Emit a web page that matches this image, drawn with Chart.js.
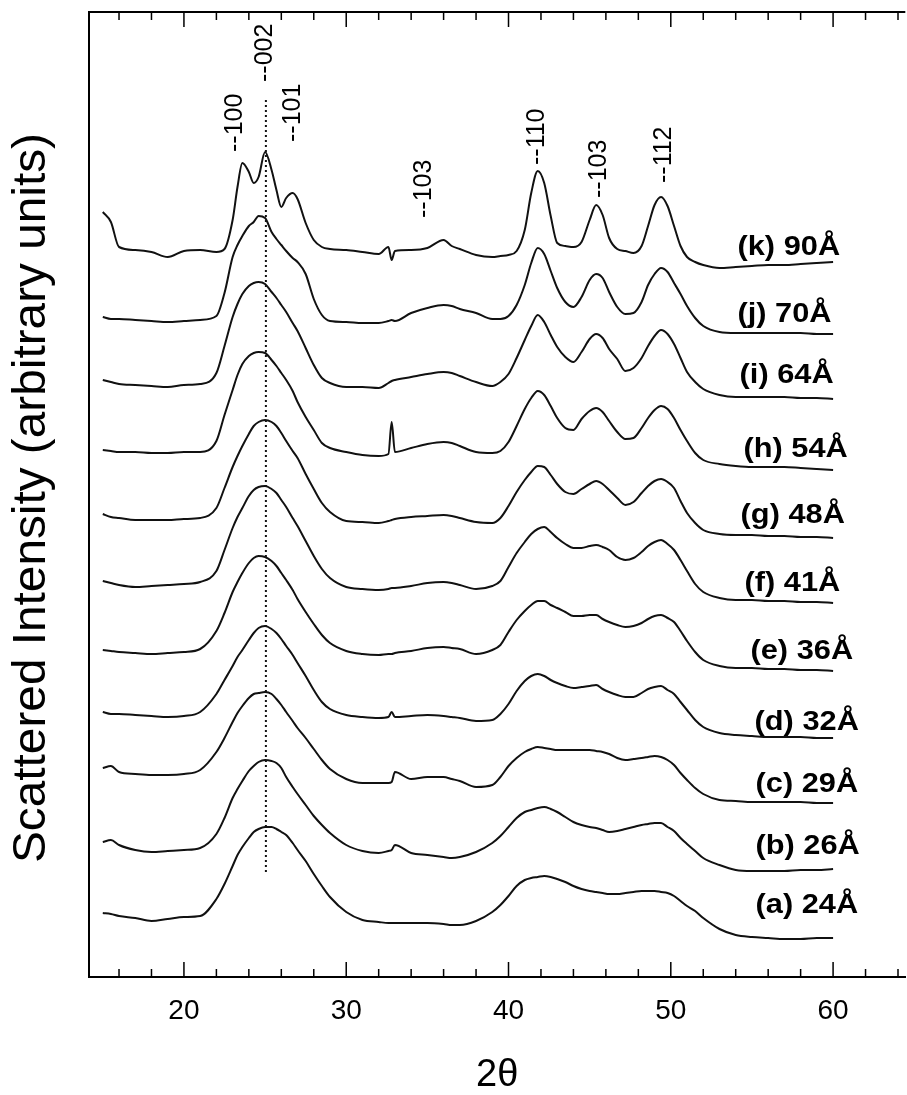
<!DOCTYPE html>
<html>
<head>
<meta charset="utf-8">
<title>Scattered intensity vs 2θ</title>
<script src="https://cdn.jsdelivr.net/npm/chart.js@4"></script>
<style>
  html, body { margin: 0; padding: 0; background: #fff; }
  #wrap { width: 907px; height: 1095px; }
</style>
</head>
<body>
<div id="wrap"><canvas id="xrdChart" width="907" height="1095"></canvas></div>
<script>
// 2-theta sample points (degrees), shared by every pattern
const twoTheta = [15, 15.5, 16, 17, 18, 19, 20, 21, 22, 22.5,
  23, 23.3, 23.6, 24, 24.3, 24.6, 25, 25.4, 25.7, 26,
  26.3, 26.7, 27, 27.5, 28, 28.5, 29, 30, 31, 32,
  32.6, 32.8, 33.0, 34, 35, 36, 36.5, 37, 38, 39,
  39.5, 40, 40.5, 41, 41.4, 41.8, 42.2, 42.6, 43, 43.5,
  44, 44.5, 45, 45.4, 45.8, 46.2, 46.7, 47.2, 47.7, 48.2,
  48.6, 49, 49.4, 49.8, 50.2, 50.6, 51, 51.5, 52, 53,
  54, 55, 56, 57, 58, 59, 60];

// intensities (arbitrary units, already offset for stacking)
const intensityA = [65, 64, 62, 60, 57, 59, 61, 62, 79, 94,
  112, 123, 131, 140, 146, 149, 151, 151, 149, 146,
  143, 135, 128, 117, 104, 92, 81, 66, 58, 56,
  55, 55, 55, 55, 55, 54, 53, 53, 57, 66,
  73, 82, 92, 98, 100, 101, 102, 101, 99, 96,
  92, 89, 87, 86, 85, 84, 84, 85, 86, 87,
  87, 87, 86, 85, 82, 77, 72, 67, 60, 49,
  43, 41, 40, 39, 39, 40, 40];
const intensityB = [136, 138, 133, 128, 126, 127, 128, 130, 144, 160,
  180, 189, 197, 207, 212, 216, 218, 217, 215, 210,
  201, 191, 184, 173, 162, 153, 145, 133, 127, 125,
  127, 128, 133, 125, 123, 121, 120, 121, 126, 135,
  142, 151, 160, 166, 168, 170, 171, 169, 166, 161,
  156, 153, 151, 150, 148, 146, 147, 149, 151, 153,
  154, 155, 155, 151, 147, 140, 134, 127, 120, 113,
  108, 107, 107, 107, 108, 108, 109];
const intensityC = [210, 212, 206, 204, 203, 203, 204, 208, 226, 240,
  256, 265, 272, 280, 284, 285, 286, 284, 279, 273,
  266, 257, 250, 240, 229, 218, 209, 199, 195, 195,
  195, 196, 206, 199, 201, 201, 199, 197, 191, 193,
  201, 212, 220, 226, 229, 231, 230, 229, 228, 228,
  228, 228, 228, 227, 226, 224, 220, 218, 219, 220,
  221, 222, 221, 218, 213, 205, 198, 190, 184, 178,
  177, 176, 176, 176, 176, 175, 175];
const intensityD = [266, 264, 264, 263, 262, 261, 262, 266, 284, 298,
  312, 321, 328, 338, 345, 350, 352, 349, 345, 339,
  332, 323, 315, 302, 288, 276, 269, 263, 261, 260,
  261, 266, 261, 262, 263, 262, 261, 260, 257, 258,
  264, 274, 287, 297, 302, 304, 302, 298, 295, 292,
  290, 291, 292, 293, 289, 286, 283, 281, 281, 285,
  289, 291, 292, 288, 284, 276, 268, 258, 251, 245,
  243, 242, 241, 241, 241, 240, 240];
const intensityE = [328, 327, 326, 325, 324, 325, 326, 329, 347, 365,
  386, 396, 405, 415, 420, 422, 421, 417, 412, 405,
  398, 388, 379, 366, 354, 343, 335, 327, 324, 323,
  324, 324, 325, 327, 330, 331, 330, 329, 324, 328,
  333, 346, 358, 367, 373, 377, 377, 373, 370, 366,
  362, 362, 363, 363, 359, 356, 353, 351, 352, 355,
  359, 362, 363, 360, 356, 347, 337, 326, 318, 312,
  310, 310, 309, 309, 308, 308, 307];
const intensityF = [397, 395, 393, 391, 392, 393, 394, 396, 407, 428,
  450, 461, 470, 482, 488, 491, 492, 489, 485, 478,
  471, 460, 452, 437, 422, 409, 400, 391, 389, 388,
  389, 390, 390, 392, 395, 396, 395, 393, 389, 392,
  397, 411, 425, 436, 444, 449, 451, 446, 440, 434,
  430, 430, 432, 433, 431, 428, 421, 418, 420, 426,
  432, 436, 438, 434, 428, 418, 407, 394, 386, 380,
  378, 378, 377, 377, 376, 376, 375];
const intensityG = [464, 461, 460, 458, 458, 458, 459, 460, 470, 490,
  511, 522, 532, 544, 552, 556, 558, 556, 552, 545,
  537, 527, 520, 504, 489, 475, 466, 457, 456, 455,
  457, 458, 459, 461, 462, 463, 462, 460, 456, 455,
  460, 472, 486, 498, 506, 512, 511, 503, 494, 486,
  484, 489, 494, 497, 494, 488, 480, 473, 476, 485,
  492, 497, 499, 496, 490, 477, 465, 455, 448, 444,
  443, 443, 442, 442, 441, 441, 440];
const intensityH = [528, 527, 526, 526, 525, 525, 526, 526, 537, 563,
  588, 603, 614, 622, 625, 626, 625, 618, 612, 605,
  598, 587, 576, 561, 548, 535, 530, 526, 523, 522,
  524, 556, 526, 530, 534, 536, 535, 532, 526, 525,
  527, 536, 552, 569, 580, 587, 583, 572, 560, 550,
  548, 559, 567, 570, 566, 557, 546, 539, 540, 550,
  560, 568, 572, 569, 560, 548, 537, 525, 518, 514,
  512, 511, 511, 511, 510, 509, 508];
const intensityI = [598, 596, 594, 593, 592, 591, 593, 594, 605, 632,
  661, 674, 684, 692, 695, 696, 694, 686, 680, 673,
  666, 655, 647, 630, 613, 600, 595, 591, 591, 590,
  595, 597, 598, 601, 604, 606, 605, 602, 596, 592,
  596, 604, 620, 638, 652, 663, 656, 643, 631, 621,
  616, 626, 639, 644, 640, 629, 619, 607, 610, 620,
  632, 642, 648, 644, 634, 620, 606, 596, 589, 583,
  581, 581, 581, 581, 580, 580, 579];
const intensityJ = [661, 659, 659, 658, 657, 656, 657, 658, 662, 685,
  721, 733, 742, 752, 756, 762, 760, 746, 739, 733,
  727, 720, 716, 704, 679, 663, 657, 656, 655, 655,
  657, 658, 657, 665, 670, 673, 672, 669, 665, 659,
  659, 662, 673, 693, 715, 730, 724, 707, 690, 676,
  671, 681, 698, 704, 700, 686, 671, 664, 665, 676,
  693, 704, 710, 706, 695, 684, 672, 660, 652, 646,
  645, 645, 645, 645, 645, 644, 644];
const intensityK = [766, 756, 731, 728, 726, 721, 727, 728, 726, 729,
  758, 791, 815, 806, 795, 801, 826, 808, 788, 771,
  780, 785, 779, 755, 738, 731, 729, 728, 726, 724,
  731, 718, 727, 728, 730, 738, 732, 729, 723, 721,
  722, 723, 727, 748, 785, 807, 795, 762, 735, 732,
  731, 736, 758, 773, 763, 740, 729, 727, 725, 732,
  752, 773, 781, 772, 752, 732, 721, 716, 713, 710,
  711, 712, 713, 713, 714, 715, 716];

const patterns = [intensityA, intensityB, intensityC, intensityD, intensityE, intensityF,
  intensityG, intensityH, intensityI, intensityJ, intensityK];
const sampleNames = ['(a) 24Å', '(b) 26Å', '(c) 29Å', '(d) 32Å', '(e) 36Å', '(f) 41Å',
  '(g) 48Å', '(h) 54Å', '(i) 64Å', '(j) 70Å', '(k) 90Å'];
const sampleLabelTheta = [55.22, 55.22, 55.22, 55.16, 54.91, 54.54, 54.30, 54.48, 54.24, 54.11, 54.11];
const sampleLabelY = [65, 124, 186, 248, 319, 387, 455, 521, 595, 656, 723];

// reflection markers
const peakNames = ['--100', '--002', '--101', '--103', '--110', '--103', '--112'];
const peakTheta = [23.13, 24.98, 26.70, 34.81, 41.76, 45.57, 49.56];
const peakLabelBase = [826, 896, 836, 760, 813, 780, 795];

// dotted guide through the 002 position
const guideTheta = 25.05;
const guideRange = [106, 880];

const FONT = 'Arial, "Liberation Sans", Helvetica, sans-serif';

const framePlugin = {
  id: 'frame',
  afterDraw(chart) {
    const { ctx, chartArea: a } = chart;
    const x = chart.scales.x;
    ctx.save();
    ctx.strokeStyle = '#000';
    ctx.lineWidth = 2;
    ctx.beginPath();
    ctx.moveTo(a.left, a.top);
    ctx.lineTo(a.right, a.top);
    ctx.stroke();
    // inward tick marks, top and bottom
    ctx.lineWidth = 1.5;
    x.ticks.forEach(t => {
      const px = x.getPixelForValue(t.value);
      const len = t.value % 10 === 0 ? 15 : 8;
      ctx.beginPath();
      ctx.moveTo(px, a.bottom);
      ctx.lineTo(px, a.bottom - len);
      ctx.moveTo(px, a.top);
      ctx.lineTo(px, a.top + len);
      ctx.stroke();
    });
    ctx.restore();
  }
};

const labelPlugin = {
  id: 'labels',
  afterDatasetsDraw(chart) {
    const { ctx } = chart;
    const x = chart.scales.x, y = chart.scales.y;
    ctx.save();
    ctx.fillStyle = '#000';

    // y axis title, stretched to the reference length
    const yTitle = 'Scattered Intensity (arbitrary units)';
    ctx.save();
    ctx.font = '46px ' + FONT;
    const w = ctx.measureText(yTitle).width;
    ctx.translate(45, 498);
    ctx.rotate(-Math.PI / 2);
    ctx.scale(730 / w, 1);
    ctx.textAlign = 'center';
    ctx.textBaseline = 'alphabetic';
    ctx.fillText(yTitle, 0, 0);
    ctx.restore();

    // reflection labels
    ctx.font = '25px ' + FONT;
    peakNames.forEach((name, i) => {
      ctx.save();
      ctx.translate(x.getPixelForValue(peakTheta[i]), y.getPixelForValue(peakLabelBase[i]));
      ctx.rotate(-Math.PI / 2);
      ctx.textAlign = 'left';
      ctx.textBaseline = 'middle';
      ctx.fillText(name, 0, 0);
      ctx.restore();
    });

    // sample labels
    ctx.font = 'bold 27px ' + FONT;
    sampleNames.forEach((name, i) => {
      ctx.save();
      ctx.translate(x.getPixelForValue(sampleLabelTheta[i]), y.getPixelForValue(sampleLabelY[i]));
      ctx.scale(1.14, 1);
      ctx.textAlign = 'left';
      ctx.textBaseline = 'alphabetic';
      ctx.fillText(name, 0, 0);
      ctx.restore();
    });
    ctx.restore();
  }
};

const datasets = patterns.map((vals, i) => ({
  label: sampleNames[i],
  data: twoTheta.map((t, j) => ({ x: t, y: vals[j] })),
  borderColor: '#111',
  borderWidth: 2,
  pointRadius: 0,
  fill: false,
  cubicInterpolationMode: 'monotone'
}));
datasets.push({
  label: '002 guide',
  data: guideRange.map(v => ({ x: guideTheta, y: v })),
  borderColor: '#111',
  borderWidth: 2,
  borderDash: [2, 3],
  pointRadius: 0,
  fill: false
});

new Chart(document.getElementById('xrdChart'), {
  type: 'line',
  data: { datasets },
  options: {
    responsive: false,
    animation: false,
    layout: { padding: { left: 89, top: 12, right: -9, bottom: 0 } },
    plugins: {
      legend: { display: false },
      tooltip: { enabled: false }
    },
    scales: {
      x: {
        type: 'linear',
        min: 14.15,
        max: 64.45,
        ticks: {
          stepSize: 2,
          maxTicksLimit: 100,
          includeBounds: false,
          autoSkip: false,
          maxRotation: 0,
          minRotation: 0,
          padding: 9,
          color: '#000',
          font: { size: 28, family: FONT },
          callback: v => (v % 10 === 0 ? v : '')
        },
        grid: { display: false },
        border: { display: true, color: '#000', width: 2 },
        title: {
          display: true,
          text: '2θ',
          color: '#000',
          font: { size: 38, family: FONT, lineHeight: 1 },
          padding: 0
        },
        afterFit: s => { s.height = 118; }
      },
      y: {
        min: 1,
        max: 966,
        ticks: { display: false },
        grid: { display: false },
        border: { display: true, color: '#000', width: 2 },
        afterFit: s => { s.width = 0; }
      }
    }
  },
  plugins: [framePlugin, labelPlugin]
});
</script>
</body>
</html>
